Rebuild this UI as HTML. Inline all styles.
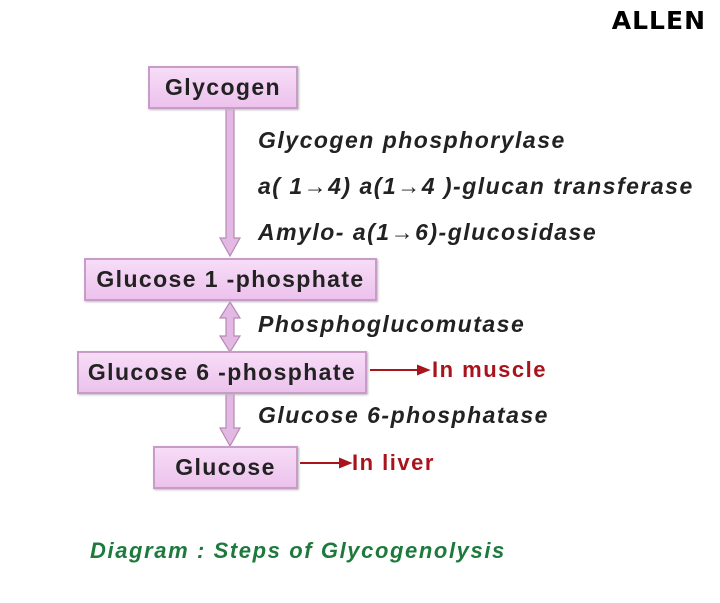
<!DOCTYPE html><html><head><style>
body{margin:0;width:720px;height:603px;background:#fff;position:relative;overflow:hidden;font-family:"Liberation Sans","DejaVu Sans",sans-serif}
.b{position:absolute;background:linear-gradient(#f7dcf7,#ecc2ec);border:2px solid #c89bc8;box-sizing:border-box;font-size:23px;font-weight:bold;letter-spacing:1.4px;color:#222;display:flex;align-items:center;justify-content:center;box-shadow:1px 1px 2px #bbb;white-space:nowrap}
.t{position:absolute;font-style:italic;font-weight:bold;font-size:23px;letter-spacing:1.5px;color:#222;white-space:nowrap}
.r{position:absolute;font-size:22px;font-weight:bold;letter-spacing:1.5px;color:#a8141c;white-space:nowrap}
</style></head><body>
<div style="position:absolute;right:14px;top:6px;font-size:25px;font-weight:900;letter-spacing:1px;font-family:'DejaVu Sans',sans-serif">ALLEN</div>
<svg width="720" height="603" style="position:absolute;left:0;top:0">
<g fill="#e3b8e3" stroke="#b58ab5" stroke-width="1.2">
<path d="M226 108 H234 V238 H240 L230 256 L220 238 H226 Z"/>
<path d="M230 302 L240 318 H234 V336 H240 L230 352 L220 336 H226 V318 H220 Z"/>
<path d="M226 393 H234 V428 H240 L230 446 L220 428 H226 Z"/>
</g>
<g stroke="#a8141c" stroke-width="2" fill="#a8141c">
<line x1="370" y1="370" x2="420" y2="370"/><path d="M428 370 L418 366 L418 374 Z"/>
<line x1="300" y1="463" x2="342" y2="463"/><path d="M350 463 L340 459 L340 467 Z"/>
</g>
</svg>
<div class="b" style="left:148px;top:66px;width:150px;height:43px">Glycogen</div>
<div class="b" style="left:84px;top:258px;width:293px;height:43px">Glucose 1 -phosphate</div>
<div class="b" style="left:77px;top:351px;width:290px;height:43px">Glucose 6 -phosphate</div>
<div class="b" style="left:153px;top:446px;width:145px;height:43px">Glucose</div>
<div class="t" style="left:258px;top:127px">Glycogen phosphorylase</div>
<div class="t" style="left:258px;top:173px">a( 1→4) a(1→4 )-glucan transferase</div>
<div class="t" style="left:258px;top:219px">Amylo- a(1→6)-glucosidase</div>
<div class="t" style="left:258px;top:311px">Phosphoglucomutase</div>
<div class="t" style="left:258px;top:402px">Glucose 6-phosphatase</div>
<div class="r" style="left:432px;top:357px">In muscle</div>
<div class="r" style="left:352px;top:450px">In liver</div>
<div style="position:absolute;left:90px;top:538px;font-size:22px;letter-spacing:1.6px;font-style:italic;font-weight:bold;color:#1e7a3c">Diagram : Steps of Glycogenolysis</div>
</body></html>
